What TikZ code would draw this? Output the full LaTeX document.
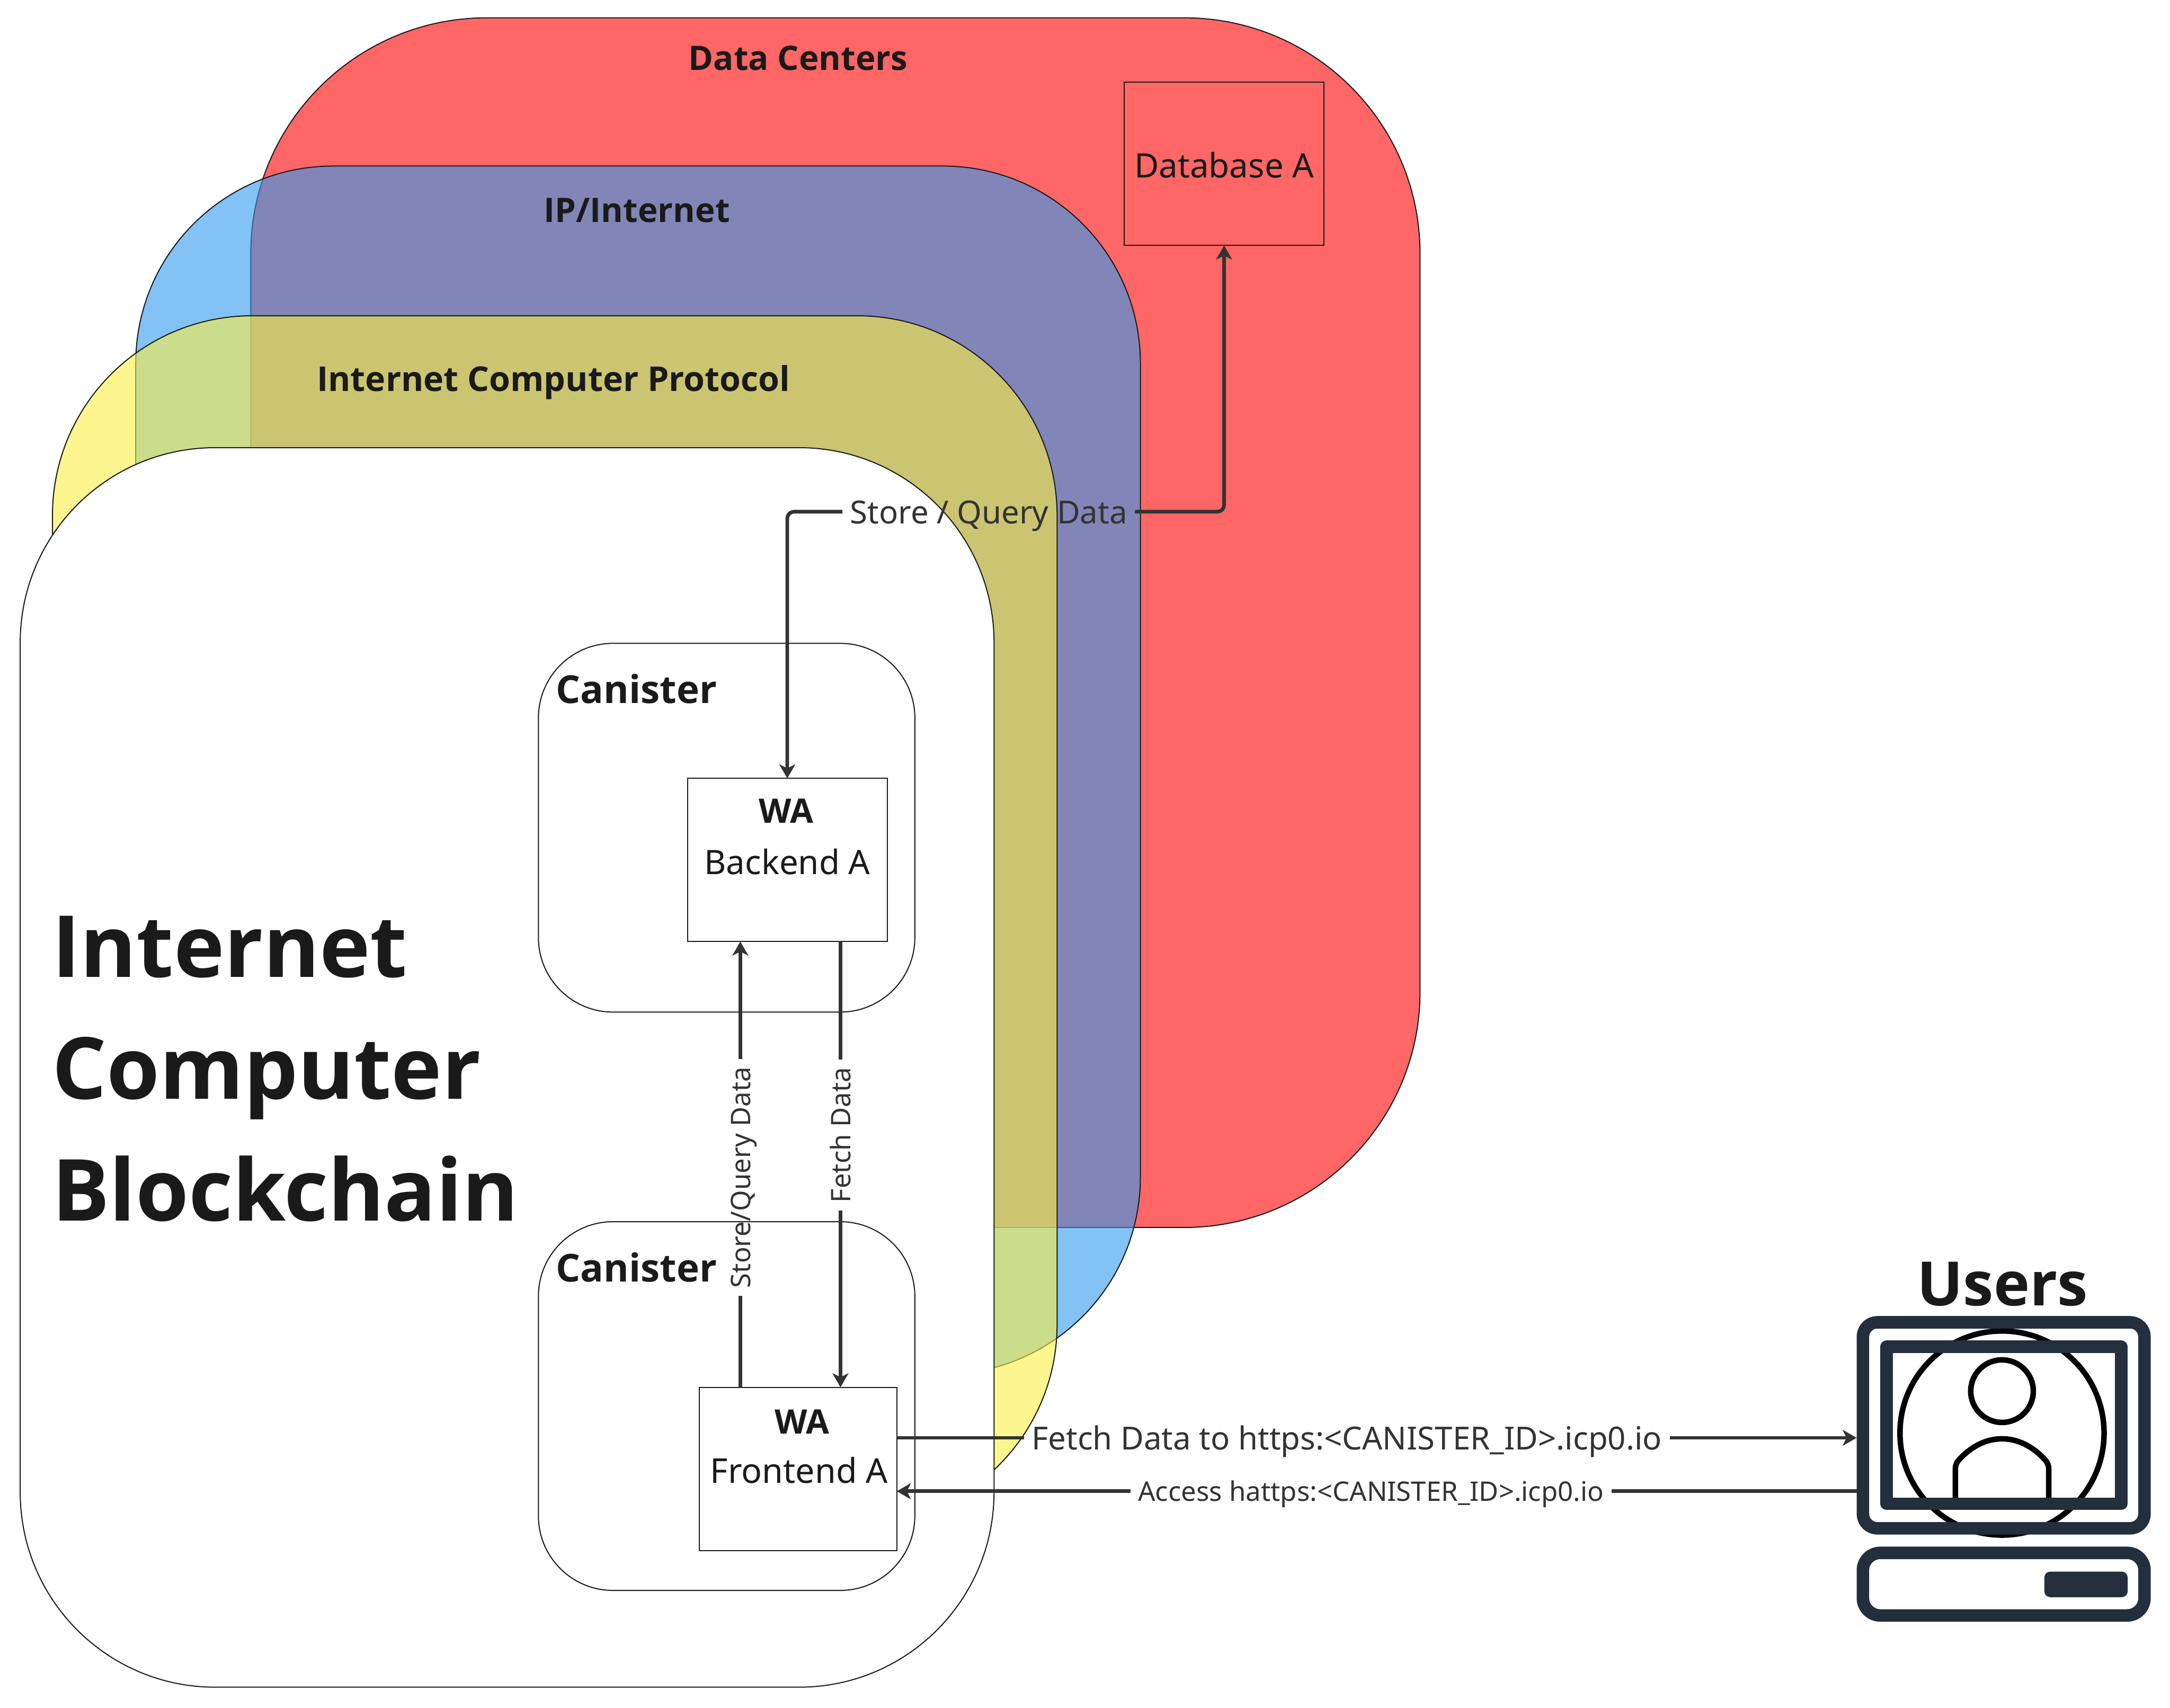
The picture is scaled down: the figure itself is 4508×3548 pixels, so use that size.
\documentclass[tikz,border=0pt]{standalone}
\usepackage{fontspec}
\setmainfont{Noto Sans}
\newfontfamily\heavy{Open Sans}
\usetikzlibrary{arrows.meta}
\definecolor{redf}{RGB}{255,102,102}
\definecolor{bluef}{RGB}{47,154,238}
\definecolor{yellowf}{RGB}{253,240,68}
\definecolor{edge}{RGB}{26,26,26}
\definecolor{ink}{RGB}{26,26,26}
\definecolor{conn}{RGB}{51,51,51}
\definecolor{navy}{RGB}{36,47,62}
\newcommand{\fs}[1]{\fontsize{#1pt}{#1pt}\selectfont}
\tikzset{
  every node/.style={inner sep=0pt,outer sep=0pt},
  region/.style={draw=edge,line width=2.2pt,rectangle},
  plainbox/.style={draw=edge,line width=2.2pt,rectangle},
  flow/.style={draw=conn,line width=7.5pt,rounded corners=14pt},
  tip/.style={-{Stealth[length=29pt,width=33pt,inset=8pt]}},
  title/.style={text=ink,font=\heavy\fs{70}\bfseries,anchor=base},
  body/.style={text=ink,font=\fs{70},anchor=base},
  lab/.style={text=conn,text height=50pt,text depth=0pt,inner xsep=16pt,font=\fs{66}},
  vlab/.style={text=conn,text height=42pt,text depth=0pt,inner xsep=16pt,font=\fs{56},rotate=90},
  slab/.style={text=conn,text height=42pt,text depth=0pt,inner xsep=16pt,font=\fs{56}},
  navyline/.style={draw=navy,line width=26pt,line join=round},
  blackline/.style={draw=black,line width=11.5pt},
}
\begin{document}
\begin{tikzpicture}[x=1pt,y=-1pt]
\useasboundingbox (0,0) rectangle (4508,3548);
\fill[white] (0,0) rectangle (4508,3548);
% stacked regions
\node[region,fill=redf,rounded corners=490pt,minimum width=2429pt,minimum height=2513pt] (dc) at (1735.5,1293.5) {};
\node[region,fill=bluef,fill opacity=.6,rounded corners=410pt,minimum width=2087pt,minimum height=2510pt] (ip) at (1325.5,1600) {};
\node[region,fill=yellowf,fill opacity=.6,rounded corners=415pt,minimum width=2087pt,minimum height=2510pt] (icp) at (1152.5,1911) {};
\node[region,fill=white,rounded corners=405pt,minimum width=2023pt,minimum height=2575pt] (icb) at (1053.5,2217.5) {};
% canisters
\node[plainbox,fill=white,rounded corners=155pt,minimum width=782pt,minimum height=766pt] (c1) at (1509.5,1719.5) {};
\node[plainbox,fill=white,rounded corners=155pt,minimum width=782pt,minimum height=766pt] (c2) at (1509.5,2921) {};
% boxes
\node[plainbox,minimum width=415pt,minimum height=339pt] (db) at (2543,340.5) {};
\node[plainbox,fill=white,minimum width=415pt,minimum height=339pt] (be) at (1635.5,1786.5) {};
\node[plainbox,fill=white,minimum width=410pt,minimum height=339pt] (fe) at (1658,3051.5) {};
% region titles
\node[title] (t1) at (1658,146) {Data Centers};
\node[title] (t2) at (1323,462) {IP/Internet};
\node[title,font=\heavy\fs{71}\bfseries] (t3) at (1150,813) {Internet Computer Protocol};
\node[title,font=\heavy\fs{80}\bfseries,anchor=base west] (t4) at (1155,1461) {Canister};
\node[title,font=\heavy\fs{80}\bfseries,anchor=base west] (t5) at (1155,2663) {Canister};
\node[text=ink,font=\heavy\fs{178}\bfseries,align=left,anchor=base west] (t6) at (108,2536) {Internet\\[75pt]Computer\\[75pt]Blockchain};
% box texts
\node[body] (t7) at (2543,369) {Database A};
\node[title] (t8) at (1633,1710) {WA};
\node[body] (t9) at (1635.5,1817) {Backend A};
\node[title] (t10) at (1666,2979) {WA};
\node[body,font=\fs{71}] (t11) at (1660,3081) {Frontend A};
% connector labels
\node[lab] (l1) at (2054,1063) {Store / Query Data};
\node[vlab] (l2) at (1538,2446) {Store/Query Data};
\node[vlab] (l3) at (1746,2358) {Fetch Data};
\node[lab] (l4) at (2798,2987) {Fetch Data to https:<CANISTER\_ID>.icp0.io};
\node[slab] (l5) at (2848,3098) {Access hattps:<CANISTER\_ID>.icp0.io};
% user icon
\coordinate (ic) at (4159,2977);
\draw[blackline] (ic) circle (212pt);
\draw[blackline] (4159,2890) circle (65pt);
\draw[blackline] (4062,3115) -- (4062,3052) .. controls (4062,3042) and (4066,3036) .. (4073,3029) .. controls (4098,3003) and (4128,2989) .. (4159,2989) .. controls (4190,2989) and (4220,3003) .. (4245,3029) .. controls (4252,3036) and (4256,3042) .. (4256,3052) -- (4256,3115);
\node[navyline,rounded corners=30pt,rectangle,outer sep=13pt,minimum width=585pt,minimum height=428pt] (mon) at (4162.5,2961) {};
\node[navyline,rectangle,minimum width=488pt,minimum height=326pt] (scr) at (4163,2961) {};
\node[navyline,rounded corners=36pt,rectangle,minimum width=585pt,minimum height=130pt] (base) at (4162.5,3291) {};
\node[fill=navy,rounded corners=12pt,rectangle,minimum width=173pt,minimum height=53pt] (btn) at (4333.5,3291.5) {};
\node[text=ink,font=\heavy\fs{127}\bfseries,anchor=base] (t12) at (4160,2712) {Users};
% connectors
\draw[flow,tip] (l1.west) -| (be.north);
\draw[flow,tip] (l1.east) -| (db.south);
\draw[flow] (fe.north west |- fe.north) ++(85,0) -- (l2.west);
\draw[flow,tip] (l2.east) -- (l2.east |- be.south);
\draw[flow] (l3.east) -- (l3.east |- be.south);
\draw[flow,tip] (l3.west) -- (l3.west |- fe.north);
\draw[flow] (fe.east |- l4.west) -- (l4.west);
\draw[flow,tip] (l4.east) -- (mon.west |- l4.east);
\draw[flow,tip] (l5.west) -- (fe.east |- l5.west);
\draw[flow] (l5.east) -- (mon.west |- l5.east);
\end{tikzpicture}
\end{document}
